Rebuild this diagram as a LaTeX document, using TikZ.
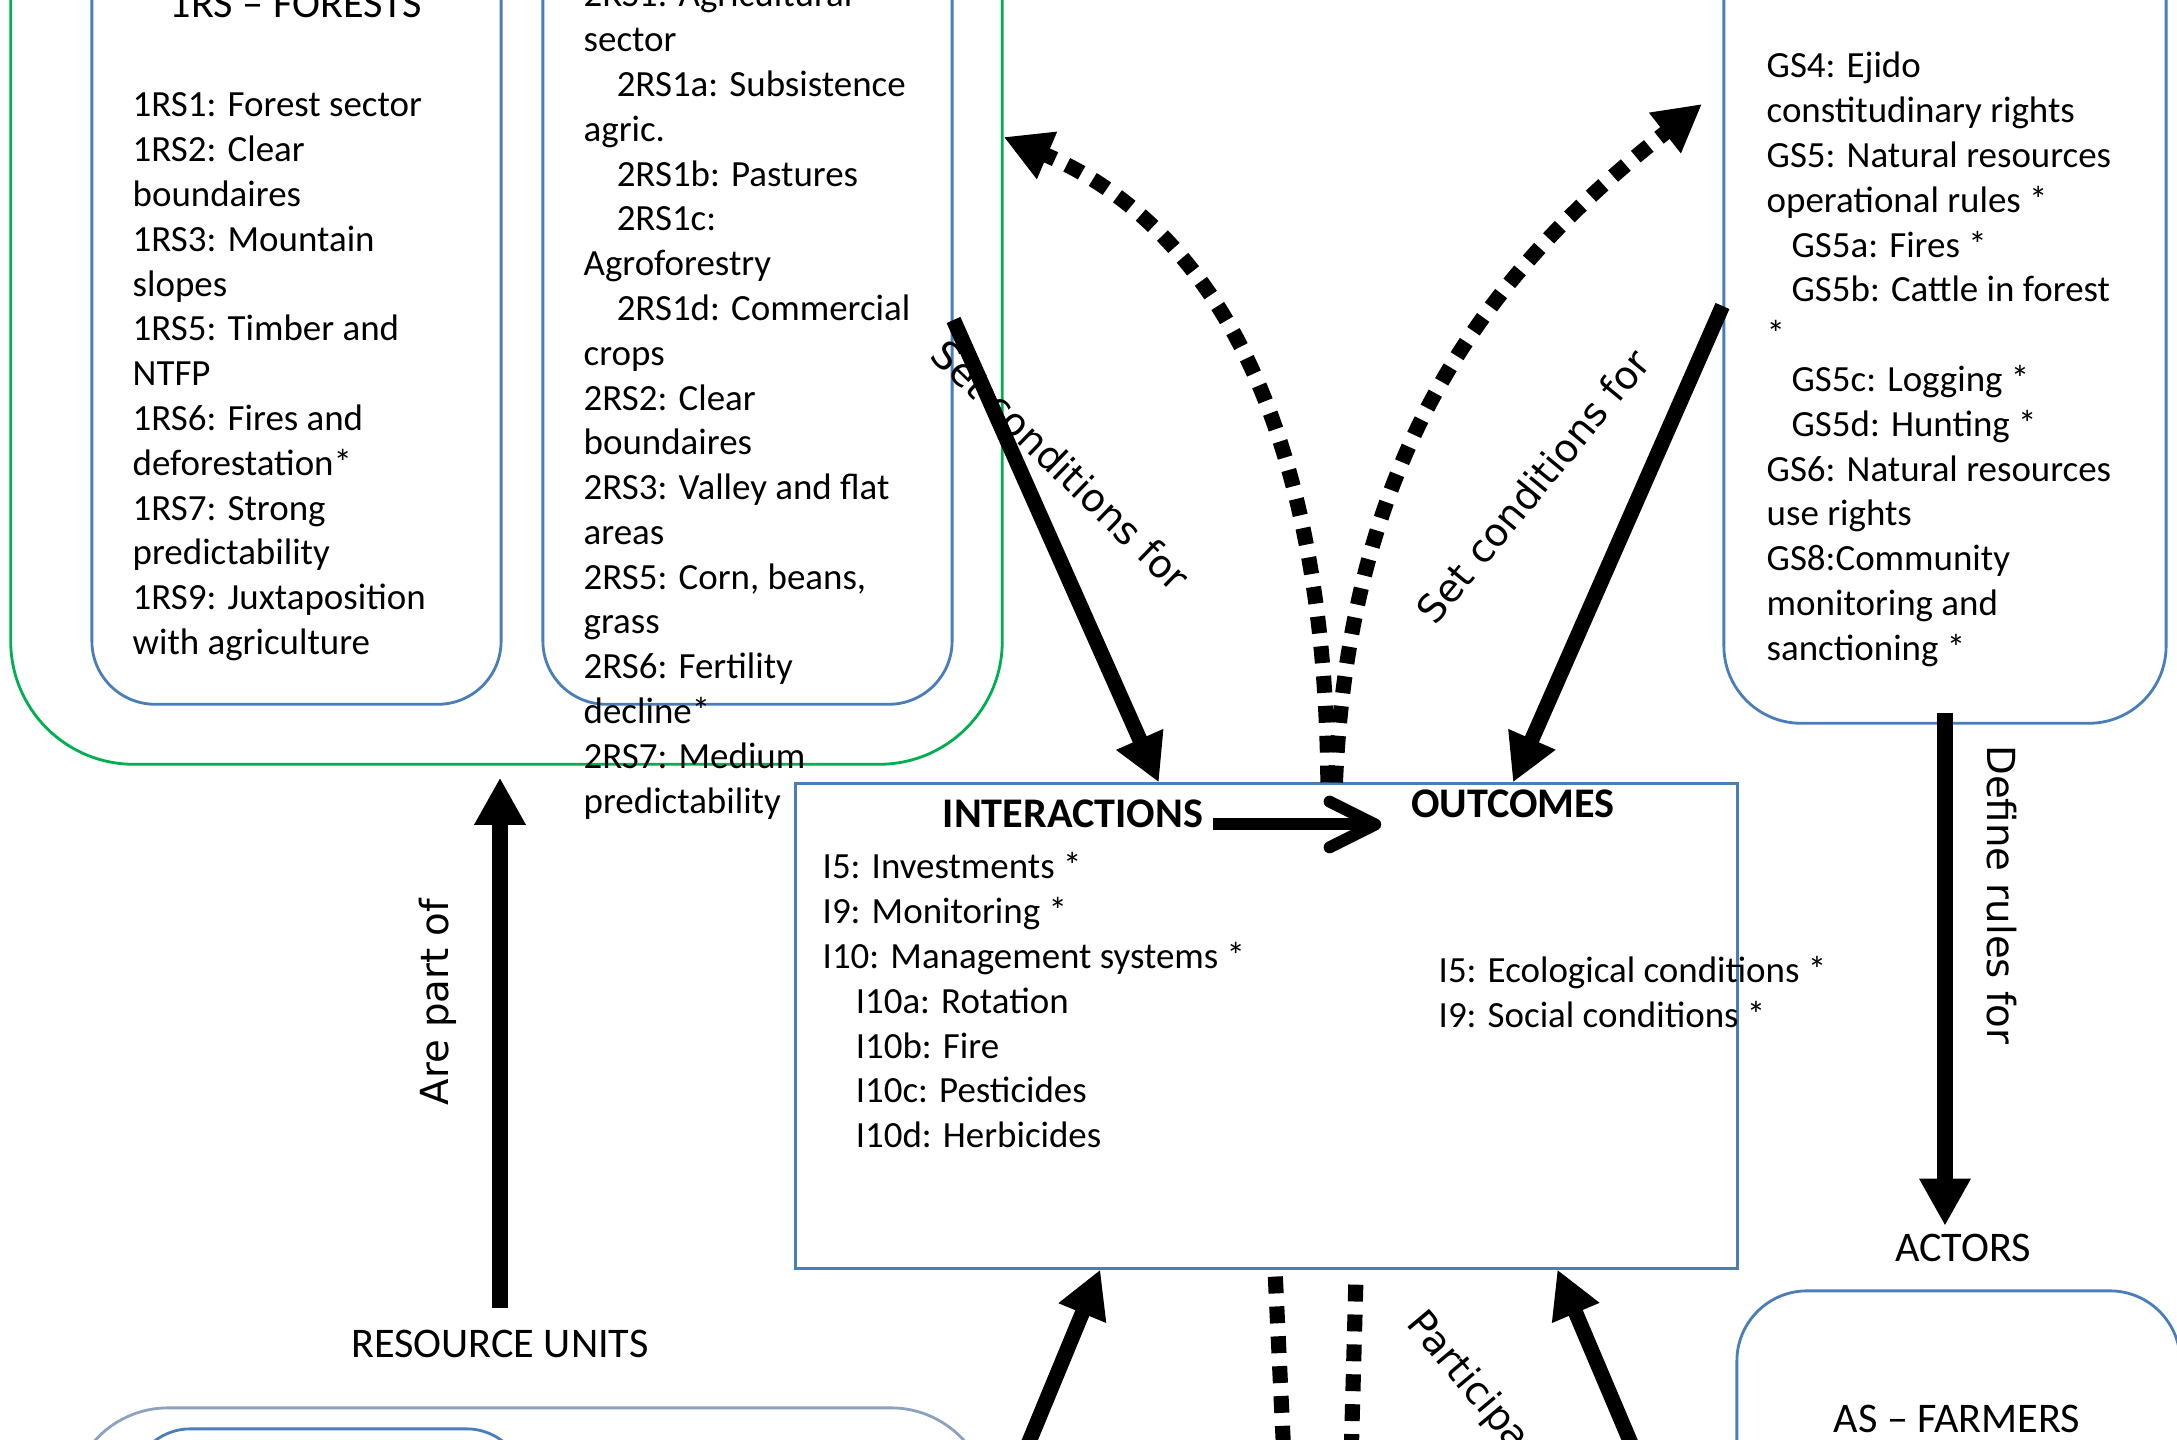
\documentclass[tikz,border=0pt]{standalone}
\usepackage{fontspec}
\setmainfont{Carlito}
\newfontfamily\verdfont{DejaVu Sans}
\usetikzlibrary{arrows.meta,calc}
\definecolor{boxblue}{HTML}{4A7EBB}
\definecolor{boxgreen}{HTML}{00B050}
\definecolor{boxgrey}{HTML}{8EA2BF}
\newcommand{\indsub}{\hspace*{9.4pt}}
\newcommand{\indgs}{\hspace*{7.1pt}}

\begin{document}
\begin{tikzpicture}[x=0.01cm, y=-0.01cm,
  bluebox/.style={draw=boxblue, line width=0.8pt, inner sep=0pt},
  item/.style={anchor=base west, inner sep=0pt, font=\fontsize{10.5}{12.7}\selectfont},
  heading/.style={anchor=base, inner sep=0pt, font=\fontsize{12}{14.5}\selectfont},
  lab/.style={inner sep=0pt, font=\verdfont\fontsize{11}{13}\selectfont},
  flow/.style={-{Triangle[length=13.4pt,width=13.7pt]}, line width=4.3pt},
  dotline/.style={line width=4.3pt, dash pattern=on 4.8pt off 3.7pt},
  dots/.style={dotline, -{Triangle[length=13.4pt,width=13.7pt]}}]
\useasboundingbox (0,0) rectangle (2177,1440);
\clip (0,0) rectangle (2177,1440);

% resource systems
\node[bluebox, draw=boxgreen, rounded corners=35pt, minimum width=9.91cm, minimum height=10.14cm] (rs) at (506.5,257) {};
\node[bluebox, rounded corners=18pt, minimum width=4.09cm, minimum height=10.04cm] (rsf) at (296.5,202) {};
\node[bluebox, rounded corners=18pt, minimum width=4.09cm, minimum height=10.04cm] (rsa) at (747.5,202) {};
\node[heading] (rsf-t) at (296,18) {1RS – FORESTS};
\foreach \t [count=\i from 0] in {1RS1: Forest sector, 1RS2: Clear, boundaires, 1RS3: Mountain, slopes,
    1RS5: Timber and, NTFP, 1RS6: Fires and, deforestation*, 1RS7: Strong, predictability,
    1RS9: Juxtaposition, with agriculture}
  \node[item] (rsf-\i) at (132,{117+44.78*\i}) {\t};
\foreach \t [count=\i from 0] in {2RS1: Agricultural, sector, \indsub 2RS1a: Subsistence, agric.,
    \indsub 2RS1b: Pastures, \indsub 2RS1c:, Agroforestry, \indsub 2RS1d: Commercial, crops,
    2RS2: Clear, boundaires, 2RS3: Valley and flat, areas, {2RS5: Corn, beans,}, grass,
    2RS6: Fertility, decline*, 2RS7: Medium, predictability}
  \node[item] (rsa-\i) at (583,{7+44.78*\i}) {\t};

% governance
\node[bluebox, rounded corners=22pt, minimum width=4.42cm, minimum height=10.23cm] (gs) at (1945,211.5) {};
\foreach \t [count=\i from 0] in {GS4: Ejido, constitudinary rights, GS5: Natural resources, operational rules *,
    \indgs GS5a: Fires *, \indgs GS5b: Cattle in forest, *, \indgs GS5c: Logging *, \indgs GS5d: Hunting *,
    GS6: Natural resources, use rights, GS8:Community, monitoring and, sanctioning *}
  \node[item] (gs-\i) at (1766,{78+44.78*\i}) {\t};

% focal action situation
\node[bluebox, minimum width=9.41cm, minimum height=4.84cm] (cen) at (1266.5,1026) {};
\node[heading, font=\fontsize{12}{14.5}\selectfont\bfseries] (inter) at (1073,828) {INTERACTIONS};
\node[heading, font=\fontsize{12}{14.5}\selectfont\bfseries] (outc) at (1513,818) {OUTCOMES};
\foreach \t [count=\i from 0] in {I5: Investments *, I9: Monitoring *, I10: Management systems *,
    \indsub I10a: Rotation, \indsub I10b: Fire, \indsub I10c: Pesticides, \indsub I10d: Herbicides}
  \node[item] (int-\i) at (822,{879+44.78*\i}) {\t};
\foreach \t [count=\i from 0] in {I5: Ecological conditions *, I9: Social conditions *}
  \node[item] (out-\i) at (1438,{983+44.78*\i}) {\t};
\draw[line width=3.4pt, -{Straight Barb[length=13pt,width=13pt,round]}, shorten <=2.6pt, shorten >=8.3pt]
  ([yshift=1pt]inter.base east) -- ([yshift=1pt]inter.base east -| outc.west);

% units and actors
\node[heading] (ru) at (500,1358) {RESOURCE UNITS};
\node[bluebox, draw=boxgrey, rounded corners=28pt, minimum width=9.19cm, minimum height=4.92cm] (ruo) at (529.5,1654) {};
\node[bluebox, rounded corners=17pt, minimum width=3.95cm, minimum height=4.71cm] (rui) at (328.5,1664.5) {};
\node[heading] (act) at (1963,1262) {ACTORS};
\node[bluebox, rounded corners=20pt, minimum width=4.43cm, minimum height=5.09cm] (as) at (1958.5,1545.5) {};
\node[heading] (as-t) at (1957,1433) {AS – FARMERS};

% links
\draw[flow, shorten <=6.3pt, shorten >=3.4pt] (ru.north) -- (ru.north |- rs.south);
\node[lab, rotate=90] (l-part) at (438,1002) {Are part of};
\draw[flow, shorten <=-3.4pt, shorten >=2.3pt] (gs.south) -- (gs.south |- act.north);
\node[lab, rotate=-90] (l-rules) at (2002,895) {Define rules for};
\draw[flow] (rsa.east |- 0,320) -- ($(cen.north west)!0.386!(cen.north east)$);
\node[lab, rotate=-44] (l-set1) at (1061,465) {Set conditions for};
\draw[flow] (gs.west |- 0,306) -- ($(cen.north west)!0.761!(cen.north east)$);
\node[lab, rotate=50.5] (l-set2) at (1533,486) {Set conditions for};
\coordinate (gsTip) at (1702,104);
\draw[dots] ($(cen.north west)!0.565!(cen.north east)$) .. controls (1325,420) and (1210,225) .. (rs.east |- 0,137);
\draw[dots] ($(cen.north west)!0.573!(cen.north east)$) .. controls (1350,450) and (1490,270) .. (gsTip);

% from below
\coordinate (bl) at (1005,1500);
\coordinate (br) at (1655,1500);
\coordinate (dl) at (1286,1500);
\coordinate (dr) at (1350,1500);
\draw[flow] (bl) -- ($(cen.south west)!0.324!(cen.south east)$);
\draw[flow] (br) -- ($(cen.south west)!0.808!(cen.south east)$);
\draw[dotline, shorten <=2pt] ($(cen.south west)!0.509!(cen.south east)$) -- (dl);
\draw[dotline, shorten <=4.3pt] ($(cen.south west)!0.595!(cen.south east)$) -- (dr);
\node[lab, rotate=-50, anchor=north west] (l-part2) at (1428,1305) {Participa};
\end{tikzpicture}
\end{document}
